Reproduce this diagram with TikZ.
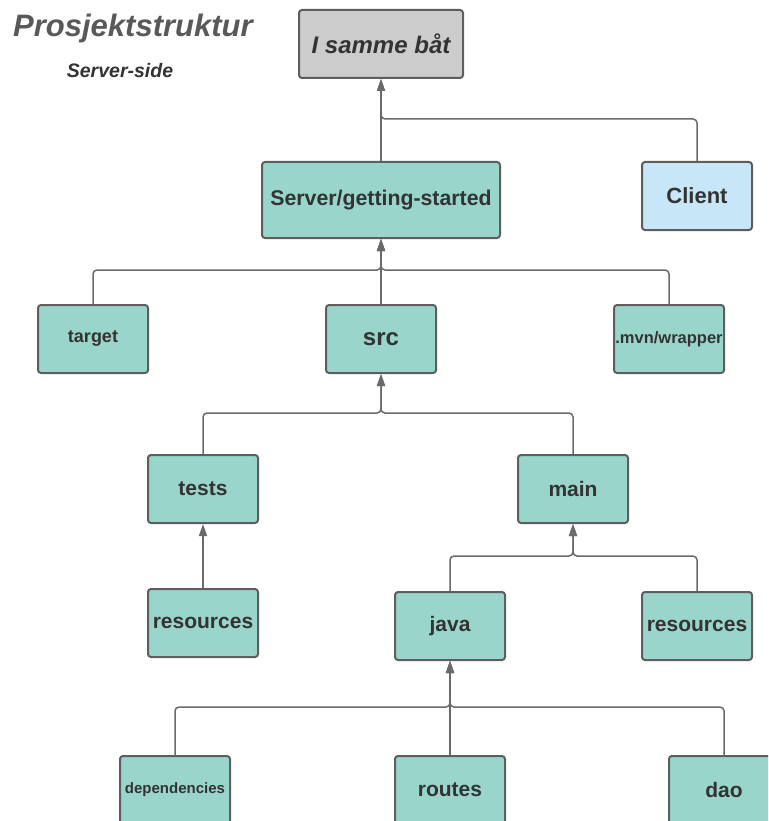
\documentclass[tikz,border=0pt]{standalone}
\usepackage{fontspec}
\setmainfont{Liberation Sans}
\usetikzlibrary{arrows.meta}
\definecolor{boxline}{HTML}{5E5E5E}
\definecolor{linkline}{HTML}{6A6A6A}
\definecolor{teal}{HTML}{99D5CA}
\definecolor{greybox}{HTML}{CCCCCC}
\definecolor{bluebox}{HTML}{C7E6F7}
\definecolor{txt}{HTML}{333333}
\definecolor{titlegrey}{HTML}{595959}
\tikzset{
  folder/.style={draw=boxline, line width=2pt, rounded corners=3pt, fill=teal,
    minimum width=110pt, minimum height=68pt, inner sep=0pt, text=txt,
    font=\bfseries\fontsize{21}{24}\selectfont},
  link/.style={draw=linkline, line width=1.5pt, rounded corners=4pt},
  tolink/.style={link, -{Triangle[length=12pt,width=8pt]}},
}
\begin{document}
\begin{tikzpicture}[x=1pt,y=-1pt]
\useasboundingbox (0,0) rectangle (768,821);
\clip (0,0) rectangle (768,821);

% headings
\node[anchor=west, text=titlegrey, inner sep=0pt,
  font=\bfseries\itshape\fontsize{31}{34}\selectfont] (title) at (13,28) {Prosjektstruktur};
\node[text=txt, inner sep=0pt,
  font=\bfseries\itshape\fontsize{19.5}{22}\selectfont] (subtitle) at (120,71) {Server-side};

% boxes
\node[folder, fill=greybox, minimum width=164pt,
  font=\bfseries\itshape\fontsize{24}{28}\selectfont] (top) at (381,44) {I samme båt};
\node[folder, minimum width=238pt, minimum height=76pt,
  font=\bfseries\fontsize{21.3}{24}\selectfont] (server) at (381,200) {Server/getting-started};
\node[folder, fill=bluebox, font=\bfseries\fontsize{22}{26}\selectfont] (client) at (697,196) {Client};

\node[folder, font=\bfseries\fontsize{18}{21}\selectfont] (target) at (93,339) {target};
\node[folder, font=\bfseries\fontsize{24}{28}\selectfont] (src) at (381,339) {src};
\node[folder, font=\bfseries\fontsize{16.5}{19}\selectfont] (mvn) at (669,339) {.mvn/wrapper};

\node[folder] (tests) at (203,489) {tests};
\node[folder] (main) at (573,489) {main};

\node[folder] (resleft) at (203,623) {resources};
\node[folder] (java) at (450,626) {java};
\node[folder] (resright) at (697,626) {resources};

\node[folder, font=\bfseries\fontsize{15}{18}\selectfont] (deps) at (175,790) {dependencies};
\node[folder] (routes) at (450,790) {routes};
\node[folder] (dao) at (724,790) {dao};

% connectors
\draw[tolink] (server.north) -- (top.south);
\draw[tolink] (client.north) -- ++(0,-42) -| (top.south);

\draw[tolink] (src.north) -- (server.south);
\draw[tolink] (target.north) -- ++(0,-34) -| (server.south);
\draw[tolink] (mvn.north) -- ++(0,-34) -| (server.south);

\draw[tolink] (tests.north) -- ++(0,-41) -| (src.south);
\draw[tolink] (main.north) -- ++(0,-41) -| (src.south);

\draw[tolink] (resleft.north) -- (tests.south);

\draw[tolink] (java.north) -- ++(0,-35) -| (main.south);
\draw[tolink] (resright.north) -- ++(0,-35) -| (main.south);

\draw[tolink] (routes.north) -- (java.south);
\draw[tolink] (deps.north) -- ++(0,-48) -| (java.south);
\draw[tolink] (dao.north) -- ++(0,-48) -| (java.south);
\end{tikzpicture}
\end{document}
